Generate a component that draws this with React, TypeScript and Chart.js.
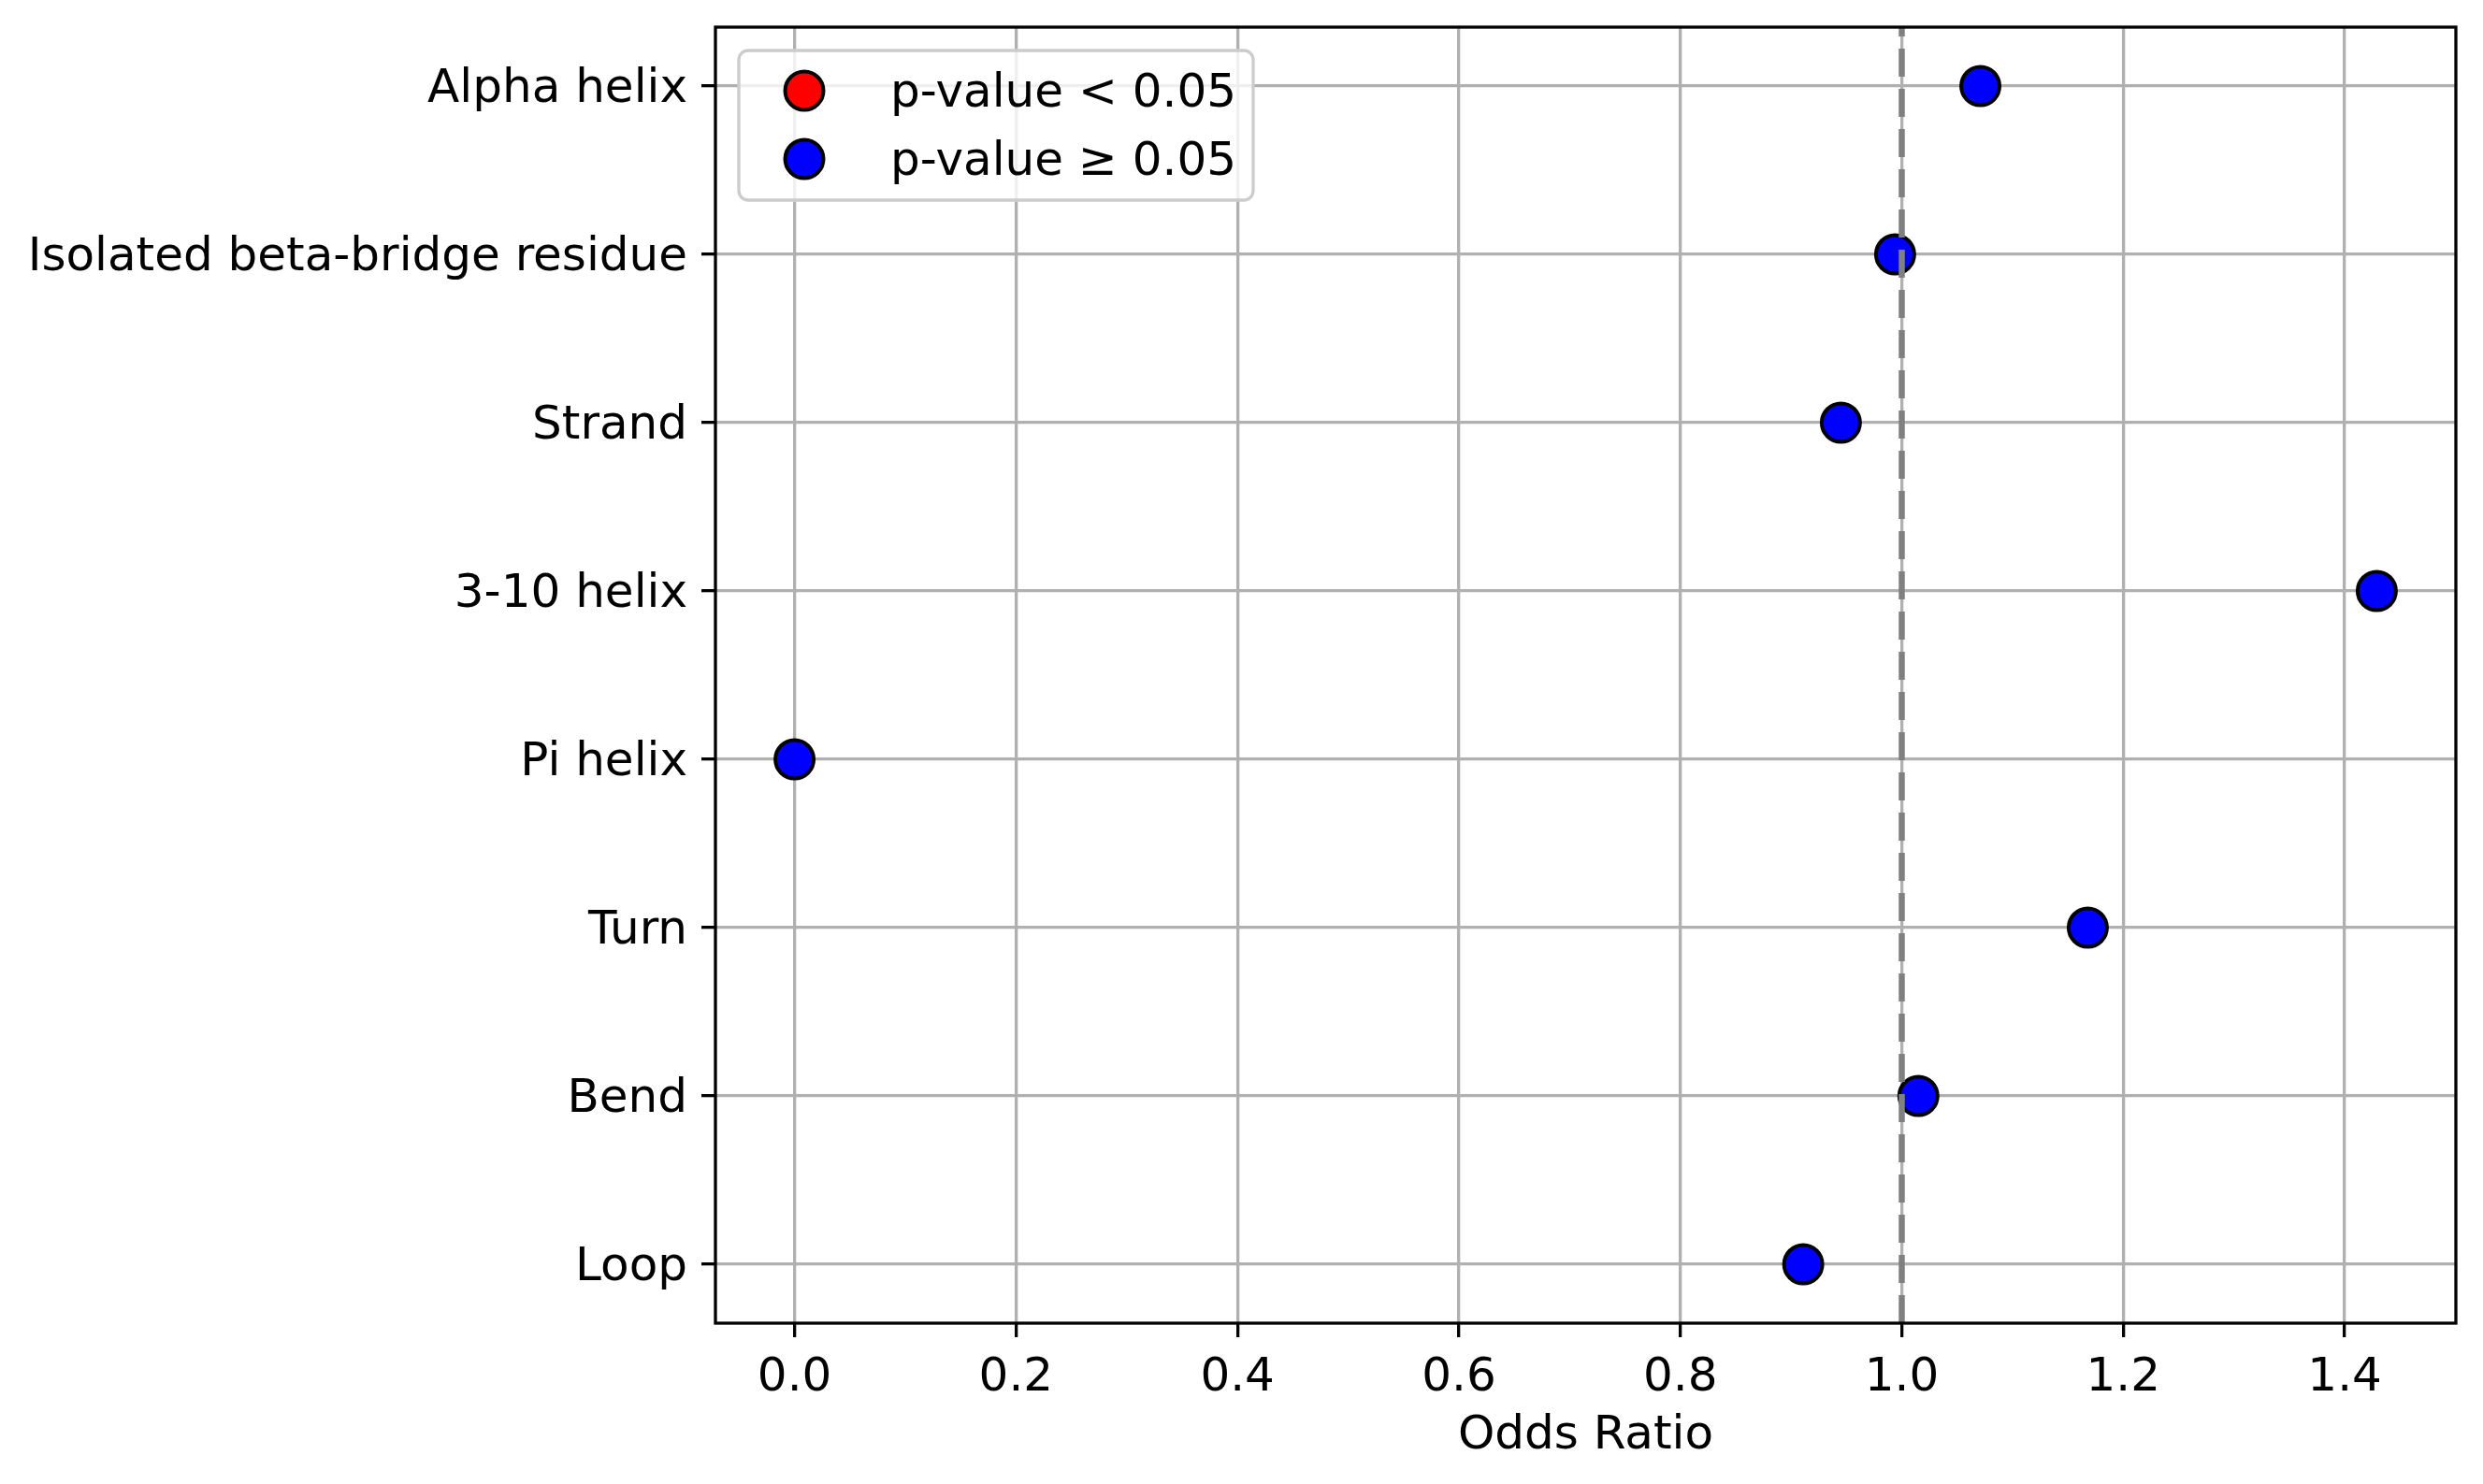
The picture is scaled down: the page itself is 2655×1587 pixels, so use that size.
import React, { useEffect, useRef } from "react";
import { Chart, registerables } from "chart.js";

Chart.register(...registerables);

// secondary structure classes, top to bottom
const categories = [
  "Alpha helix",
  "Isolated beta-bridge residue",
  "Strand",
  "3-10 helix",
  "Pi helix",
  "Turn",
  "Bend",
  "Loop",
];
const oddsRatios = [1.071, 0.994, 0.945, 1.429, 0.0, 1.168, 1.015, 0.911];
const significant = [false, false, false, false, false, false, false, false];
const legendLabels = ["p-value < 0.05", "p-value \u2265 0.05"];
const xTickValues = [0, 0.2, 0.4, 0.6, 0.8, 1.0, 1.2, 1.4];
const referenceOR = 1.0;
const xTitle = "Odds Ratio";

const FONT = "DejaVu Sans";

export default function App() {
  const chartRef = useRef<HTMLCanvasElement>(null);

  useEffect(() => {
    document.body.style.margin = "0";
    const ctx = chartRef.current?.getContext("2d");
    if (!ctx) return;

    const lo = Math.min(...oddsRatios);
    const hi = Math.max(...oddsRatios);
    const pad = (hi - lo) * 0.05;
    const yPad = (categories.length - 1) * 0.05;

    const pts = (flag: boolean) =>
      oddsRatios
        .map((v, i) => ({ x: v, y: i, s: significant[i] }))
        .filter((p) => p.s === flag)
        .map((p) => ({ x: p.x, y: p.y }));

    const overlay = {
      id: "overlay",
      afterDraw(c: any) {
        const { ctx: g, chartArea: a } = c;
        const xs = c.scales.x;
        g.save();
        // reference line at OR = 1
        const rx = xs.getPixelForValue(referenceOR);
        g.strokeStyle = "#808080";
        g.lineWidth = 6.5;
        g.setLineDash([30, 13]);
        g.beginPath();
        g.moveTo(rx, a.bottom);
        g.lineTo(rx, a.top);
        g.stroke();
        g.setLineDash([]);

        // axes frame
        g.strokeStyle = "#000";
        g.lineWidth = 3.3;
        g.strokeRect(a.left, a.top, a.right - a.left, a.bottom - a.top);

        // legend
        const bx = a.left + 25;
        const by = a.top + 25;
        const bw = 550;
        const bh = 160;
        g.beginPath();
        g.roundRect(bx, by, bw, bh, 10);
        g.fillStyle = "rgba(255,255,255,0.8)";
        g.fill();
        g.strokeStyle = "#cccccc";
        g.lineWidth = 3.3;
        g.stroke();
        g.font = `50px "${FONT}"`;
        g.textBaseline = "middle";
        g.textAlign = "left";
        c.data.datasets.forEach((ds: any, i: number) => {
          const cy = by + 43 + i * 73;
          g.beginPath();
          g.arc(bx + 70, cy, 20.5, 0, Math.PI * 2);
          g.fillStyle = ds.backgroundColor;
          g.fill();
          g.strokeStyle = "#000";
          g.lineWidth = 4;
          g.stroke();
          g.fillStyle = "#000";
          g.fillText(legendLabels[i], bx + 162, cy + 4);
        });
        g.restore();
      },
    };

    const chart = new Chart(ctx, {
      type: "scatter",
      data: {
        datasets: [
          {
            label: legendLabels[0],
            data: pts(true),
            backgroundColor: "#ff0000",
            borderColor: "#000",
            borderWidth: 4,
            pointRadius: 20.5,
          },
          {
            label: legendLabels[1],
            data: pts(false),
            backgroundColor: "#0000ff",
            borderColor: "#000",
            borderWidth: 4,
            pointRadius: 20.5,
          },
        ],
      },
      options: {
        animation: false,
        responsive: false,
        devicePixelRatio: 1,
        layout: { padding: { top: 29, right: 29, left: 0, bottom: 0 } },
        plugins: {
          legend: { display: false },
          tooltip: { enabled: false },
        },
        scales: {
          x: {
            type: "linear",
            min: lo - pad,
            max: hi + pad,
            z: 1,
            afterBuildTicks: (s: any) => {
              s.ticks = xTickValues.map((v) => ({ value: v }));
            },
            afterFit: (s: any) => {
              s.height = 172;
              s.paddingLeft = 0;
              s.paddingRight = 0;
            },
            ticks: {
              color: "#000",
              font: { family: FONT, size: 50 },
              padding: 14,
              maxRotation: 0,
              autoSkip: false,
              callback: (v: any) => Number(v).toFixed(1),
            },
            grid: {
              color: "#b0b0b0",
              lineWidth: 3.3,
              tickColor: "#000",
              tickWidth: 3.3,
              tickLength: 15,
            },
            border: { display: false },
            title: {
              display: true,
              text: xTitle,
              color: "#000",
              font: { family: FONT, size: 50 },
              padding: { top: 0, bottom: 21 },
            },
          },
          y: {
            type: "linear",
            reverse: true,
            min: -yPad,
            max: categories.length - 1 + yPad,
            z: 1,
            afterBuildTicks: (s: any) => {
              s.ticks = categories.map((_, i) => ({ value: i }));
            },
            afterFit: (s: any) => {
              s.width = 765;
              s.paddingTop = 0;
              s.paddingBottom = 0;
            },
            ticks: {
              color: "#000",
              font: { family: FONT, size: 50 },
              padding: 15,
              labelOffset: 4,
              autoSkip: false,
              callback: (v: any) => categories[Number(v)] ?? "",
            },
            grid: {
              color: "#b0b0b0",
              lineWidth: 3.3,
              tickColor: "#000",
              tickWidth: 3.3,
              tickLength: 15,
            },
            border: { display: false },
          },
        },
      },
      plugins: [overlay],
    });

    return () => chart.destroy();
  }, []);

  return (
    <div style={{ width: 2655, height: 1587, background: "#fff" }}>
      <canvas ref={chartRef} width={2655} height={1587}></canvas>
    </div>
  );
}
